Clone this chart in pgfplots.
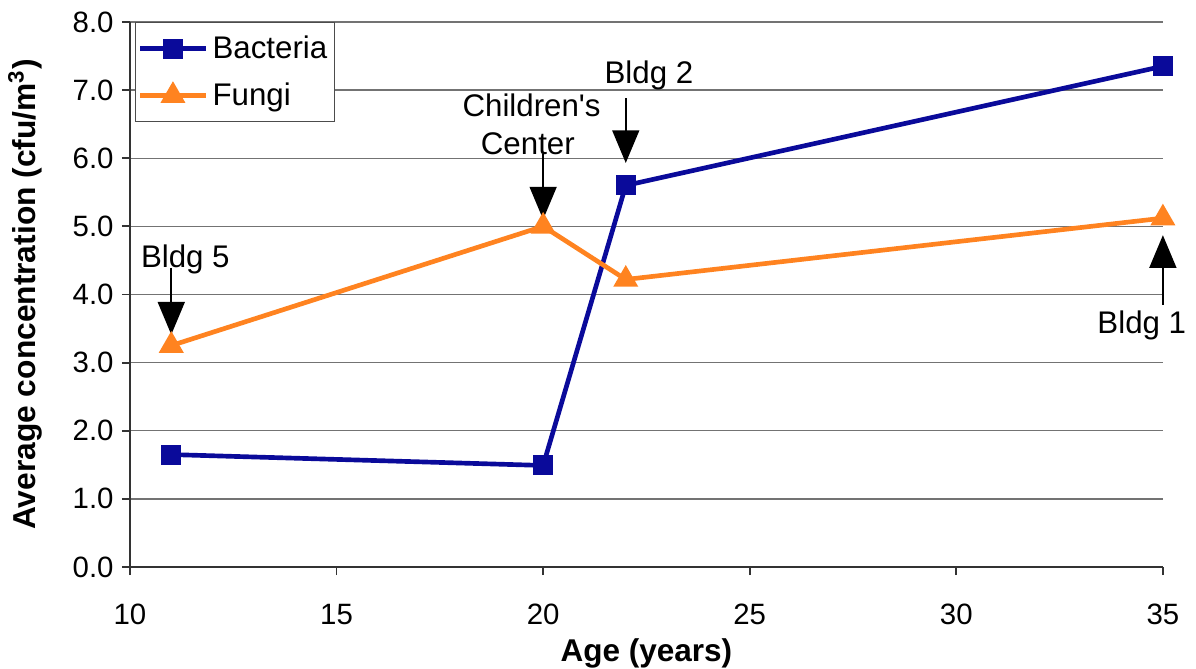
\documentclass[border=0pt]{standalone}
\usepackage{pgfplots}
\pgfplotsset{compat=1.18}
\usepackage{fontspec}
\setmainfont{Liberation Sans}
\newfontfamily\plainfont{Liberation Sans}
\usetikzlibrary{arrows.meta}
\definecolor{bact}{HTML}{0A0A9A}
\definecolor{fung}{HTML}{FF8320}

% 1 px of the reference = 0.4286pt
\begin{document}
\begin{tikzpicture}[font=\fontsize{12.6}{15}\selectfont]
\begin{axis}[
    width=442.7pt, height=233.6pt,
    scale only axis,
    xmin=10, xmax=35,
    ymin=0, ymax=8,
    xtick={10,15,20,25,30,35},
    ytick={0,1,...,8},
    yticklabel style={/pgf/number format/.cd, fixed, fixed zerofill, precision=1},
    xticklabel style={anchor=base, yshift=-21pt},
    /pgf/number format/assume math mode=true,
    axis lines*=left,
    axis line style={line width=0.9pt, draw=black!80, -},
    tick align=outside,
    major tick length=3.5pt,
    tick style={line width=0.8pt, black!80},
    ymajorgrids=true,
    grid style={line width=0.6pt, black!55},
    xlabel={\textbf{Age (years)}},
    ylabel={\textbf{Average concentration (cfu/m\textsuperscript{3})}},
    xlabel style={at={(axis description cs:0.5,-0.174)}, anchor=base,
        font=\fontsize{13.5}{16}\selectfont},
    ylabel style={at={(axis description cs:-0.0766,0.5)}, anchor=south,
        font=\fontsize{13.6}{16}\selectfont},
    clip=false,
    legend style={at={(axis description cs:0.0048,1)}, anchor=north west,
        draw=black!70, line width=0.6pt,
        inner xsep=1pt, inner ysep=3.5pt, row sep=5pt,
        font=\fontsize{13.4}{16}\selectfont},
    legend cell align=left,
    legend image code/.code={
        \draw[mark repeat=2, mark phase=2] plot coordinates {(0pt,0pt) (14pt,0pt) (28pt,0pt)};
    },
]
\addplot[color=bact, line width=2pt, mark=square*, mark size=3.3pt,
    mark options={solid}] coordinates {
    (11, 1.65) (20, 1.49) (22, 5.60) (35, 7.35)
};
\addlegendentry{Bacteria}
\addplot[color=fung, line width=2pt, mark=triangle*, mark size=4.2pt,
    mark options={solid}] coordinates {
    (11, 3.25) (20, 5.00) (22, 4.22) (35, 5.12)
};
\addlegendentry{Fungi}

\tikzset{ann/.style={line width=0.9pt, -{Triangle[width=11.5pt,length=14pt]}}}
\draw[ann] (axis cs:11,4.39) -- (axis cs:11,3.41);
\node[anchor=base, inner sep=0pt, font=\fontsize{13.4}{16}\selectfont] at (axis cs:11.34,4.40) {Bldg 5};
\draw[ann] (axis cs:20,6.06) -- (axis cs:20,5.10);
\node[anchor=base, inner sep=0pt, font=\fontsize{13.4}{16}\selectfont\plainfont] at (axis cs:19.72,6.61) {Children's};
\node[anchor=base, inner sep=0pt, font=\fontsize{13.4}{16}\selectfont] at (axis cs:19.63,6.05) {Center};
\draw[ann] (axis cs:22,6.88) -- (axis cs:22,5.93);
\node[anchor=base, inner sep=0pt, font=\fontsize{13.4}{16}\selectfont] at (axis cs:22.56,7.10) {Bldg 2};
\draw[ann] (axis cs:35,3.85) -- (axis cs:35,4.87);
\node[anchor=base, inner sep=0pt, font=\fontsize{13.4}{16}\selectfont] at (axis cs:34.49,3.43) {Bldg 1};
\end{axis}
\pgfresetboundingbox
\path[use as bounding box] (-55.7pt,-43.7pt) rectangle (456.9pt,243.0pt);
\end{tikzpicture}
\end{document}
